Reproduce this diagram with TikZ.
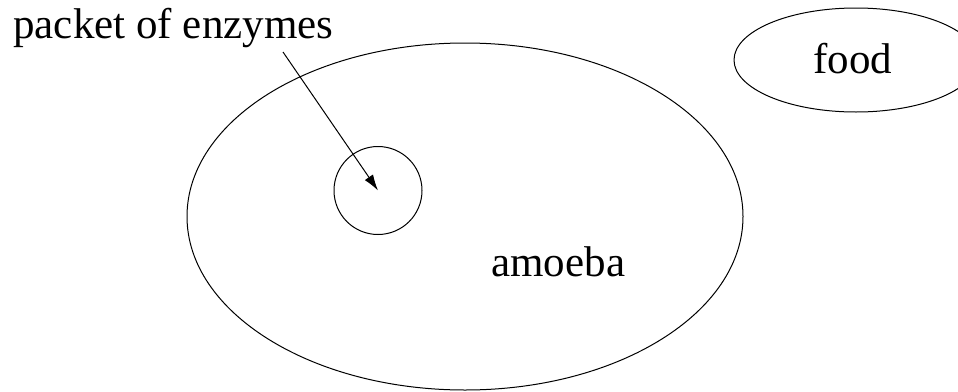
\documentclass[tikz,border=0pt]{standalone}
\usepackage{fontspec}
\setmainfont{Liberation Serif}
\usetikzlibrary{arrows.meta,positioning,shapes.geometric}

\begin{document}
\begin{tikzpicture}[
    x=0.5pt, y=-0.5pt,
    outline/.style={draw, line width=0.5pt, inner sep=0pt},
    cell/.style={outline, ellipse, minimum width=278pt, minimum height=173.5pt},
    packet/.style={outline, circle, minimum size=44pt},
    morsel/.style={outline, ellipse, minimum width=122pt, minimum height=52pt},
    labeltext/.style={inner sep=0pt, anchor=base west,
      font=\fontsize{21.5}{26}\selectfont},
    arr/.style={-{Latex[length=8pt,width=5pt]}, line width=0.5pt},
  ]
  \useasboundingbox (0,0) rectangle (958,391);

  % --- Shapes ---
  \node[cell] (amoeba) at (465,216.5) {};
  \node[packet] (pkt) at (378,190.5) {};
  \node[morsel] (food) at (856,60) {};

  % --- Labels ---
  \node[labeltext] (pktlabel) at (13,38) {packet of enzymes};
  \node[labeltext] (amoebalabel) at (491,276) {amoeba};
  \node[labeltext] (foodlabel) at (813,73) {food};

  % Arrow to the packet
  \coordinate (tail) at (283,52);
  \draw[arr] (tail) -- (pkt.center);

\end{tikzpicture}
\end{document}
